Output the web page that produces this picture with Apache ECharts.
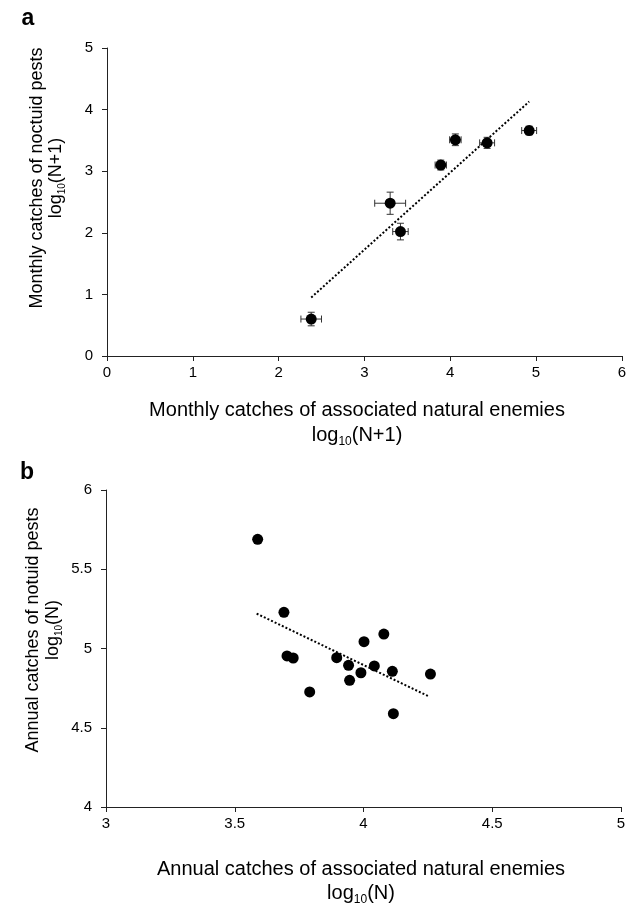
<!DOCTYPE html>
<html>
<head>
<meta charset="utf-8">
<style>html,body{margin:0;padding:0;background:#fff}#c{width:629px;height:910px}</style>
<script src="https://cdn.jsdelivr.net/npm/echarts@6/dist/echarts.min.js"></script>
</head>
<body>
<div id="c"></div>
<script>
// Panel a: monthly catches (mean ± error)
const aX = [2.38, 3.30, 3.42, 3.89, 4.06, 4.43, 4.92];
const aY = [0.60, 2.48, 2.02, 3.10, 3.51, 3.46, 3.66];
const aXErr = [0.12, 0.18, 0.09, 0.066, 0.067, 0.087, 0.087];
const aYErr = [0.11, 0.18, 0.135, 0.08, 0.095, 0.09, 0.07];
const aTrendX = [2.38, 4.92];
const aTrendY = [0.95, 4.13];
const aXTicks = [0, 1, 2, 3, 4, 5, 6];
const aYTicks = [0, 1, 2, 3, 4, 5];

// Panel b: annual catches
const bX = [3.589, 3.691, 3.703, 3.727, 3.791, 3.896, 3.942, 3.946, 3.990, 4.002, 4.042, 4.079, 4.112, 4.116, 4.260];
const bY = [5.689, 5.228, 4.953, 4.940, 4.726, 4.942, 4.894, 4.799, 4.847, 5.043, 4.890, 5.091, 4.856, 4.589, 4.839];
const bTrendX = [3.585, 4.256];
const bTrendY = [5.220, 4.696];
const bXTicks = [3, 3.5, 4, 4.5, 5];
const bYTicks = [4, 4.5, 5, 5.5, 6];

const FONT = '"Liberation Sans", Arial, sans-serif';
const AXIS_COLOR = '#222';

function zip(xs, ys) { return xs.map((x, i) => [x, ys[i]]); }

function valueAxis(ticks, idx, isY) {
  return {
    type: 'value', gridIndex: idx,
    min: ticks[0], max: ticks[ticks.length - 1], interval: ticks[1] - ticks[0],
    splitLine: { show: false },
    axisLine: { show: true, onZero: false, lineStyle: { color: AXIS_COLOR, width: 1 } },
    axisTick: { show: true, inside: false, length: 5, lineStyle: { color: AXIS_COLOR, width: 1 } },
    axisLabel: { color: '#000', fontSize: 15, fontFamily: FONT, margin: isY ? 14 : 9, showMinLabel: true, showMaxLabel: true }
  };
}

const errData = aX.map((x, i) => [x, aY[i], aXErr[i], aYErr[i]]);

function renderErr(params, api) {
  const x = api.value(0), y = api.value(1), ex = api.value(2), ey = api.value(3);
  const c = api.coord([x, y]);
  const l = api.coord([x - ex, y]), r = api.coord([x + ex, y]);
  const t = api.coord([x, y + ey]), b = api.coord([x, y - ey]);
  const cap = 3.5;
  const st = { stroke: '#333', lineWidth: 1 };
  const line = (x1, y1, x2, y2) => ({ type: 'line', shape: { x1, y1, x2, y2 }, style: st });
  return {
    type: 'group',
    children: [
      line(l[0], c[1], r[0], c[1]),
      line(l[0], c[1] - cap, l[0], c[1] + cap),
      line(r[0], c[1] - cap, r[0], c[1] + cap),
      line(c[0], t[1], c[0], b[1]),
      line(c[0] - cap, t[1], c[0] + cap, t[1]),
      line(c[0] - cap, b[1], c[0] + cap, b[1])
    ]
  };
}

function richLog(size) {
  return {
    n: { fontSize: size, fontFamily: FONT, color: '#000', lineHeight: size + 5 },
    s: { fontSize: Math.round(size * 0.58), fontFamily: FONT, color: '#000', lineHeight: Math.round(size * 0.62), verticalAlign: 'bottom' }
  };
}

function textEl(x, y, text, opts) {
  return Object.assign({
    type: 'text', x: x, y: y,
    style: Object.assign({ text: text, fontFamily: FONT, fontSize: 20, fill: '#000', align: 'center', verticalAlign: 'middle' }, opts && opts.style || {})
  }, opts && opts.rotation ? { rotation: opts.rotation } : {});
}

const Y_T = 18, X_T = 20;

const chart = echarts.init(document.getElementById('c'));
chart.setOption({
  animation: false,
  backgroundColor: '#fff',
  grid: [
    { left: 107, right: 4, top: 48, bottom: 554 },
    { left: 106, right: 8, top: 490, bottom: 103 }
  ],
  xAxis: [valueAxis(aXTicks, 0, false), valueAxis(bXTicks, 1, false)],
  yAxis: [valueAxis(aYTicks, 0, true), valueAxis(bYTicks, 1, true)],
  series: [
    { type: 'custom', xAxisIndex: 0, yAxisIndex: 0, renderItem: renderErr, data: errData, encode: { x: 0, y: 1 }, z: 2, silent: true },
    { type: 'scatter', xAxisIndex: 0, yAxisIndex: 0, data: zip(aX, aY), symbolSize: 11, itemStyle: { color: '#000', opacity: 1 }, z: 3 },
    { type: 'line', xAxisIndex: 0, yAxisIndex: 0, data: zip(aTrendX, aTrendY), showSymbol: false, symbol: 'none',
      lineStyle: { color: '#000', width: 2, type: [2, 2] }, z: 4 },
    { type: 'scatter', xAxisIndex: 1, yAxisIndex: 1, data: zip(bX, bY), symbolSize: 11, itemStyle: { color: '#000', opacity: 1 }, z: 3 },
    { type: 'line', xAxisIndex: 1, yAxisIndex: 1, data: zip(bTrendX, bTrendY), showSymbol: false, symbol: 'none',
      lineStyle: { color: '#000', width: 2, type: [2, 2] }, z: 4 }
  ],
  graphic: [
    textEl(28, 19, 'a', { style: { fontSize: 23, fontWeight: 'bold' } }),
    textEl(27, 473, 'b', { style: { fontSize: 23, fontWeight: 'bold' } }),
    // panel a y title
    textEl(37, 178, 'Monthly catches of noctuid pests', { rotation: Math.PI / 2, style: { fontSize: Y_T } }),
    textEl(56, 178, '{n|log}{s|10}{n|(N+1)}', { rotation: Math.PI / 2, style: { rich: richLog(Y_T) } }),
    // panel a x title
    textEl(357, 410, 'Monthly catches of associated natural enemies', { style: { fontSize: X_T } }),
    textEl(357, 435, '{n|log}{s|10}{n|(N+1)}', { style: { rich: richLog(X_T) } }),
    // panel b y title
    textEl(33, 630, 'Annual catches of notuid pests', { rotation: Math.PI / 2, style: { fontSize: Y_T } }),
    textEl(53, 630, '{n|log}{s|10}{n|(N)}', { rotation: Math.PI / 2, style: { rich: richLog(Y_T) } }),
    // panel b x title
    textEl(361, 869, 'Annual catches of associated natural enemies', { style: { fontSize: X_T } }),
    textEl(361, 893, '{n|log}{s|10}{n|(N)}', { style: { rich: richLog(X_T) } })
  ]
});
</script>
</body>
</html>
